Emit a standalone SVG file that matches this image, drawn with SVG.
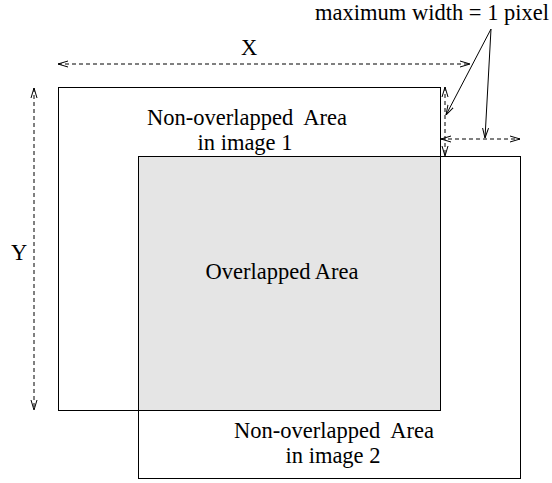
<svg xmlns="http://www.w3.org/2000/svg" width="552" height="483" viewBox="0 0 552 483">
<style>
text{font-family:"Liberation Serif","Times New Roman",serif;font-size:22.5px;fill:#000}
.box{fill:none;stroke:#000;stroke-width:1}
.dash{stroke:#000;stroke-width:1;stroke-dasharray:4,3;fill:none}
.solid{stroke:#000;stroke-width:1;fill:none}
</style>
<defs>
<marker id="oa" viewBox="0 0 10 10" refX="10" refY="5" markerWidth="10" markerHeight="10" markerUnits="userSpaceOnUse" orient="auto-start-reverse">
<path d="M0,2 L10,5 L0,8" fill="none" stroke="#000" stroke-width="1"/>
</marker>
</defs>
<g id="image2">
<rect class="box" x="138.5" y="156.5" width="382" height="322"/>
</g>
<g id="image1">
<rect class="box" x="58.5" y="87.5" width="382" height="323"/>
</g>
<g id="overlap">
<rect x="138.5" y="156.5" width="302" height="254" fill="#e5e5e5" stroke="#000" stroke-width="1"/>
<text x="282" y="279" text-anchor="middle">Overlapped Area</text>
</g>
<g id="label1">
<text x="247" y="125" text-anchor="middle" xml:space="preserve">Non-overlapped  Area</text>
<text x="245" y="150" text-anchor="middle">in image 1</text>
</g>
<g id="label2">
<text x="334" y="438" text-anchor="middle" xml:space="preserve">Non-overlapped  Area</text>
<text x="333" y="463" text-anchor="middle">in image 2</text>
</g>
<g id="note">
<text x="549" y="20" text-anchor="end">maximum width = 1 pixel</text>
</g>
<g id="dims">
<text x="249" y="55" text-anchor="middle">X</text>
<text x="19" y="260" text-anchor="middle">Y</text>
</g>
<g id="connectors">
<line class="dash" x1="58" y1="64" x2="470" y2="64" marker-start="url(#oa)" marker-end="url(#oa)"/>
<line class="dash" x1="34" y1="88" x2="34" y2="410" marker-start="url(#oa)" marker-end="url(#oa)"/>
<line class="dash" x1="445" y1="87" x2="445" y2="156" marker-start="url(#oa)" marker-end="url(#oa)"/>
<line class="dash" x1="441" y1="139" x2="520" y2="139" marker-start="url(#oa)" marker-end="url(#oa)"/>
<line class="solid" x1="491" y1="29" x2="446" y2="115" marker-end="url(#oa)"/>
<line class="solid" x1="491" y1="29" x2="485" y2="138" marker-end="url(#oa)"/>
</g>
</svg>
